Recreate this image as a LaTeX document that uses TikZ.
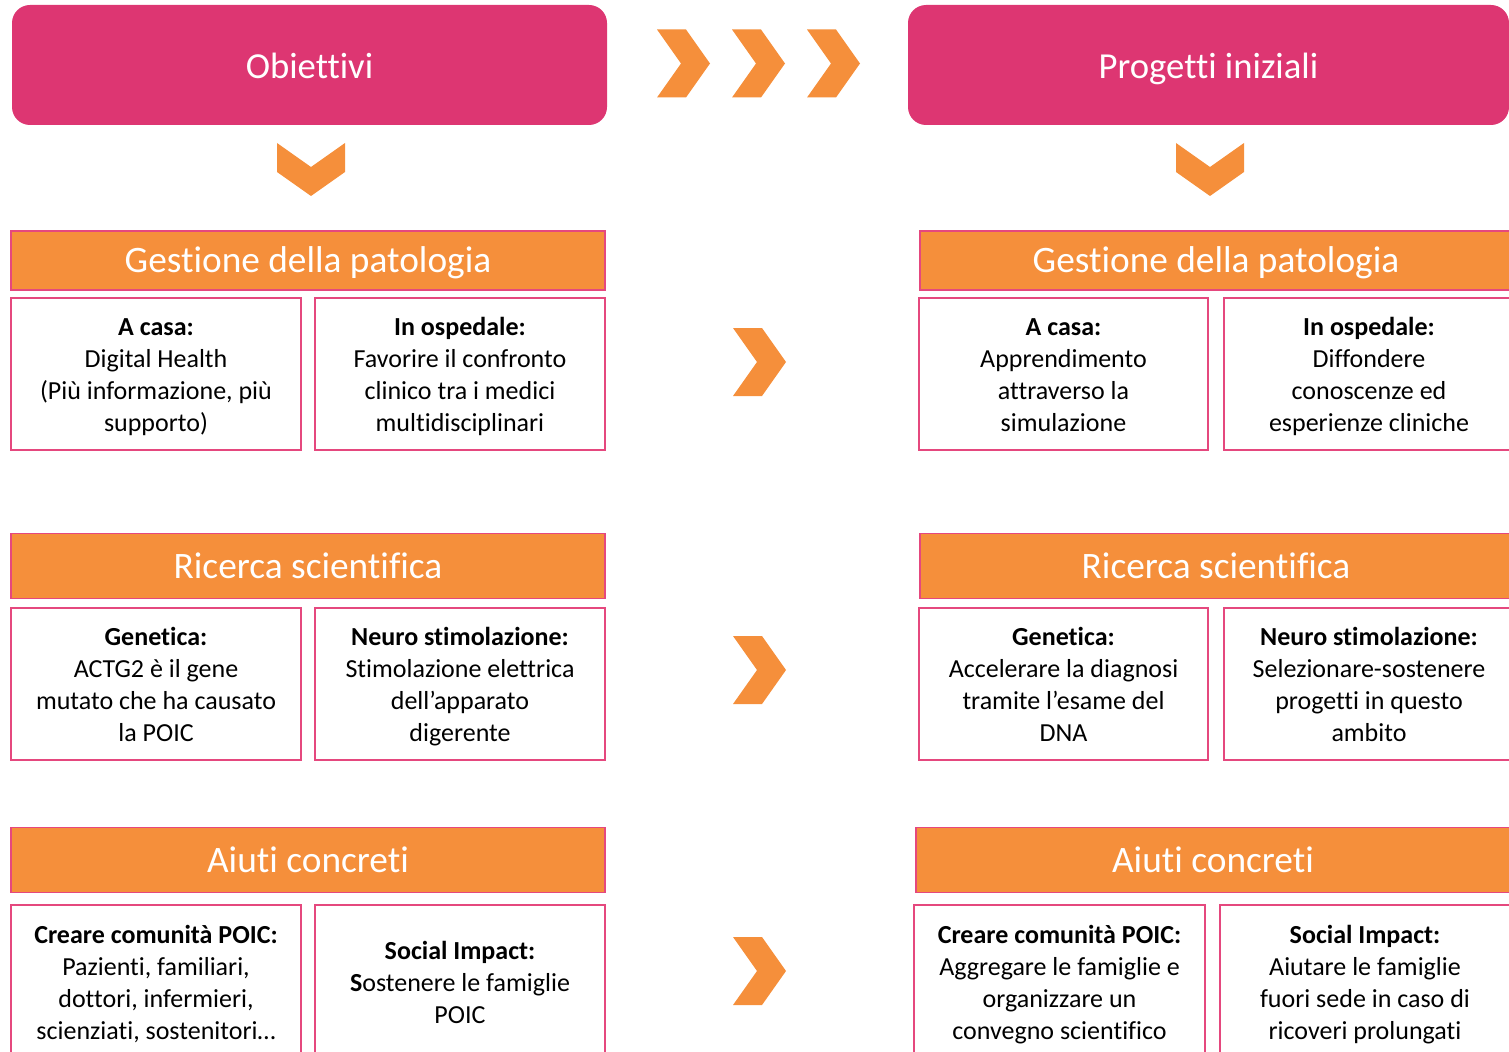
\documentclass[tikz,border=0pt]{standalone}
\usepackage{fontspec}
\setmainfont{Carlito}[Ligatures=NoCommon]
\definecolor{pinkc}{HTML}{DD3672}
\definecolor{orangec}{HTML}{F58F3B}
\definecolor{borderc}{HTML}{E5487E}
\newcommand\mytopstrut{\rule{0pt}{20.5pt}}
\newcommand\mybotstrut{\rule[-7pt]{0pt}{7pt}}
\tikzset{
  topbox/.style={rectangle, rounded corners=13.5pt, fill=pinkc, draw=none, text=white,
    minimum height=90pt, text height=20.7pt, text depth=0pt, font=\fontsize{27.5}{33}\selectfont},
  hdrbox/.style={rectangle, fill=orangec, draw=borderc, line width=1.1pt, text=white,
    text height=18.5pt, text depth=0pt, font=\fontsize{28}{33}\selectfont},
  cellbox/.style={rectangle, fill=white, draw=borderc, line width=1.1pt, align=center,
    text=black, minimum width=217.5pt, font=\fontsize{19.5}{24}\selectfont},
  chevr/.pic={\fill[orangec] (0,0) -- (29,0) -- (53,34) -- (29,68) -- (0,68) -- (24,34) -- cycle;},
  chevd/.pic={\fill[orangec] (-34,0) -- (0,24) -- (34,0) -- (34,29) -- (0,53) -- (-34,29) -- cycle;}
}
\begin{document}
\begin{tikzpicture}[x=0.75pt,y=-0.75pt]
\useasboundingbox (0,0) rectangle (1509,1052);
\clip (0,0) rectangle (1509,1052);

% top boxes
\node[topbox, minimum width=446.25pt] (obj) at (309.5,65) {Obiettivi};
\node[topbox, minimum width=450.75pt] (prog) at (1208.5,65) {Progetti iniziali};

% top chevrons
\pic at (657,29.5) {chevr};
\pic at (732,29.5) {chevr};
\pic at (807,29.5) {chevr};
\pic at (311,143) {chevd};
\pic at (1210,143) {chevd};

% middle chevrons
\pic at (733,328) {chevr};
\pic at (733,636) {chevr};
\pic at (733,937) {chevr};

% ---- Left column ----
\node[hdrbox, minimum width=445.5pt, minimum height=44.25pt] (lh1) at (308,260.5) {Gestione della patologia};
\node[cellbox, minimum height=114pt] (l1a) at (156,374) {\mytopstrut\textbf{A casa:}\\Digital Health\\(Più informazione, più\\supporto)\mybotstrut};
\node[cellbox, minimum height=114pt] (l1b) at (460,374) {\mytopstrut\textbf{In ospedale:}\\Favorire il confronto\\clinico tra i medici\\multidisciplinari\mybotstrut};

\node[hdrbox, minimum width=445.5pt, minimum height=48.75pt] (lh2) at (308,566) {Ricerca scientifica};
\node[cellbox, minimum height=114pt] (l2a) at (156,684) {\mytopstrut\textbf{Genetica:}\\ACTG2 è il gene\\mutato che ha causato\\la POIC\mybotstrut};
\node[cellbox, minimum height=114pt] (l2b) at (460,684) {\mytopstrut\textbf{Neuro stimolazione:}\\Stimolazione elettrica\\dell’apparato\\digerente\mybotstrut};

\node[hdrbox, minimum width=445.5pt, minimum height=48.75pt] (lh3) at (308,860) {Aiuti concreti};
\node[cellbox, minimum height=115.5pt] (l3a) at (156,982) {\mytopstrut\textbf{Creare comunità POIC:}\\Pazienti, familiari,\\dottori, infermieri,\\scienziati, sostenitori…\mybotstrut};
\node[cellbox, minimum height=115.5pt] (l3b) at (460,982) {\mytopstrut\textbf{Social Impact:}\\\textbf{S}ostenere le famiglie\\POIC\mybotstrut};

% ---- Right column ----
\node[hdrbox, minimum width=444pt, minimum height=44.25pt] (rh1) at (1216,260.5) {Gestione della patologia};
\node[cellbox, minimum width=216.75pt, minimum height=114pt] (r1a) at (1063.5,374) {\mytopstrut\textbf{A casa:}\\Apprendimento\\attraverso la\\simulazione\mybotstrut};
\node[cellbox, minimum height=114pt] (r1b) at (1369,374) {\mytopstrut\textbf{In ospedale:}\\Diffondere\\conoscenze ed\\esperienze cliniche\mybotstrut};

\node[hdrbox, minimum width=444pt, minimum height=48.75pt] (rh2) at (1216,566) {Ricerca scientifica};
\node[cellbox, minimum width=216.75pt, minimum height=114pt] (r2a) at (1063.5,684) {\mytopstrut\textbf{Genetica:}\\Accelerare la diagnosi\\tramite l’esame del\\DNA\mybotstrut};
\node[cellbox, minimum height=114pt] (r2b) at (1369,684) {\mytopstrut\textbf{Neuro stimolazione:}\\Selezionare-sostenere\\progetti in questo\\ambito\mybotstrut};

\node[hdrbox, minimum width=445.5pt, minimum height=48.75pt] (rh3) at (1213,860) {Aiuti concreti};
\node[cellbox, minimum width=218.25pt, minimum height=115.5pt] (r3a) at (1059.5,982) {\mytopstrut\textbf{Creare comunità POIC:}\\Aggregare le famiglie e\\organizzare un\\convegno scientifico\mybotstrut};
\node[cellbox, minimum height=115.5pt] (r3b) at (1365,982) {\mytopstrut\textbf{Social Impact:}\\Aiutare le famiglie\\fuori sede in caso di\\ricoveri prolungati\mybotstrut};
\end{tikzpicture}
\end{document}
